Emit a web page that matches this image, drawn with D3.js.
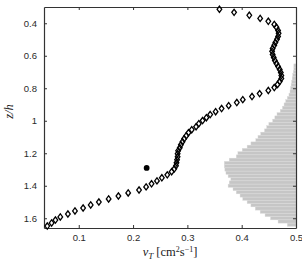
<!DOCTYPE html>
<html lang="en">
<head>
    <meta charset="UTF-8">
    <title>Eddy viscosity profile</title>
    <script src="https://d3js.org/d3.v7.min.js"></script>
    <style>
        body { margin: 0; background: #fff; }
        .tick text { font-family: "Liberation Sans", Arial, sans-serif; font-size: 9.5px; fill: #2a2a2a; }
    </style>
</head>
<body>
    <div id="chart"></div>

    <script>
        // profile: z/h and nu_T
        const profileZ = [0.314, 0.333, 0.351, 0.370, 0.388, 0.407, 0.425, 0.444, 0.462, 0.481,
            0.499, 0.518, 0.536, 0.555, 0.573, 0.592, 0.610, 0.629, 0.648, 0.666,
            0.685, 0.703, 0.722, 0.740, 0.759, 0.777, 0.796, 0.814, 0.833, 0.851,
            0.870, 0.888, 0.907, 0.925, 0.944, 0.962, 0.981, 0.999, 1.018, 1.037,
            1.055, 1.074, 1.092, 1.111, 1.129, 1.148, 1.166, 1.185, 1.203, 1.222,
            1.240, 1.259, 1.277, 1.296, 1.314, 1.333, 1.351, 1.370, 1.388, 1.407,
            1.426, 1.444, 1.463, 1.481, 1.500, 1.518, 1.537, 1.555, 1.574, 1.592,
            1.611, 1.629, 1.648];
        const profileNu = [0.359, 0.386, 0.414, 0.434, 0.449, 0.460, 0.464, 0.467, 0.468, 0.467,
            0.465, 0.462, 0.460, 0.457, 0.456, 0.457, 0.459, 0.461, 0.464, 0.467,
            0.470, 0.472, 0.473, 0.473, 0.470, 0.466, 0.460, 0.449, 0.433, 0.419,
            0.402, 0.391, 0.376, 0.363, 0.352, 0.342, 0.335, 0.328, 0.321, 0.316,
            0.308, 0.302, 0.298, 0.294, 0.291, 0.288, 0.286, 0.283, 0.282, 0.282,
            0.281, 0.280, 0.279, 0.276, 0.271, 0.263, 0.253, 0.244, 0.234, 0.224,
            0.211, 0.191, 0.173, 0.155, 0.137, 0.122, 0.108, 0.093, 0.080, 0.066,
            0.057, 0.050, 0.042];

        // single filled point
        const pointZ = 1.29;
        const pointNu = 0.225;

        // histogram bins (bottom edge of each 0.02 bin) and left end of each bar
        const histZ = d3.range(51).map(i => +(0.65 + i * 0.02).toFixed(2));
        const histLeft = [0.496, 0.496, 0.495, 0.494, 0.493, 0.492, 0.491, 0.490, 0.489, 0.487,
            0.484, 0.481, 0.478, 0.475, 0.471, 0.465, 0.461, 0.457, 0.450, 0.446,
            0.442, 0.435, 0.430, 0.426, 0.417, 0.410, 0.401, 0.393, 0.390, 0.377,
            0.368, 0.368, 0.369, 0.371, 0.375, 0.380, 0.377, 0.375, 0.384, 0.390,
            0.397, 0.402, 0.410, 0.417, 0.425, 0.434, 0.443, 0.453, 0.467, 0.484, 0.5];

        const xTicks = [0.1, 0.2, 0.3, 0.4, 0.5];
        const yTicks = [0.4, 0.6, 0.8, 1, 1.2, 1.4, 1.6];

        const W = 302, H = 261;
        const m = { left: 44, right: 296, top: 7, bottom: 228 };

        const svg = d3.select("#chart").append("svg")
            .attr("width", W)
            .attr("height", H);

        const x = d3.scaleLinear().domain([0.036, 0.5]).range([m.left, m.right]);
        const y = d3.scaleLinear().domain([0.3, 1.66]).range([m.top, m.bottom]);

        svg.append("clipPath").attr("id", "plot-clip")
            .append("rect")
            .attr("x", m.left).attr("y", m.top)
            .attr("width", m.right - m.left).attr("height", m.bottom - m.top);

        // histogram, growing from the right edge
        svg.append("g")
            .attr("clip-path", "url(#plot-clip)")
            .selectAll("rect")
            .data(histZ.map((z, i) => ({ z: z, l: histLeft[i] })))
            .join("rect")
            .attr("x", d => x(d.l))
            .attr("y", d => y(d.z))
            .attr("width", d => x(0.5) - x(d.l))
            .attr("height", d => y(d.z + 0.02) - y(d.z))
            .attr("fill", "#c6c6c6")
            .attr("stroke", "#dcdcdc")
            .attr("stroke-width", 0.4);

        // axes with inward ticks on all four sides
        const fmt = d => String(d);
        const axisColor = "#333";
        svg.append("g")
            .attr("transform", `translate(0,${m.bottom})`)
            .call(d3.axisBottom(x).tickValues(xTicks).tickFormat(fmt).tickSizeInner(-3).tickSizeOuter(0).tickPadding(6));
        svg.append("g")
            .attr("transform", `translate(0,${m.top})`)
            .call(d3.axisTop(x).tickValues(xTicks).tickFormat("").tickSizeInner(-3).tickSizeOuter(0));
        svg.append("g")
            .attr("transform", `translate(${m.left},0)`)
            .call(d3.axisLeft(y).tickValues(yTicks).tickFormat(fmt).tickSizeInner(-3).tickSizeOuter(0).tickPadding(7));
        svg.append("g")
            .attr("transform", `translate(${m.right},0)`)
            .call(d3.axisRight(y).tickValues(yTicks).tickFormat("").tickSizeInner(-3).tickSizeOuter(0));

        svg.selectAll(".domain").attr("stroke", axisColor).attr("stroke-width", 1.2);
        svg.selectAll(".tick line").attr("stroke", axisColor);

        // diamonds
        const diamond = d3.symbol().type(d3.symbolDiamond2).size(19);
        svg.append("g")
            .selectAll("path")
            .data(profileZ.map((z, i) => ({ z: z, nu: profileNu[i] })))
            .join("path")
            .attr("transform", d => `translate(${x(d.nu)},${y(d.z)}) scale(0.85,1.15)`)
            .attr("d", diamond)
            .attr("fill", "none")
            .attr("stroke", "#000")
            .attr("stroke-width", 1.35);

        svg.append("circle")
            .attr("cx", x(pointNu))
            .attr("cy", y(pointZ))
            .attr("r", 2.9)
            .attr("fill", "#000");

        // axis labels
        svg.append("text")
            .attr("transform", `translate(13,${(m.top + m.bottom) / 2 - 6}) rotate(-90)`)
            .attr("text-anchor", "middle")
            .attr("font-family", "Liberation Serif, serif")
            .attr("font-style", "italic")
            .attr("font-size", 12.5)
            .attr("fill", "#222")
            .text("z/h");

        const xl = svg.append("text")
            .attr("x", (m.left + m.right) / 2)
            .attr("y", 256)
            .attr("text-anchor", "middle")
            .attr("font-family", "Liberation Serif, serif")
            .attr("font-size", 12.5)
            .attr("fill", "#222");
        xl.append("tspan").attr("font-style", "italic").text("ν");
        xl.append("tspan").attr("font-style", "italic").attr("font-size", 9).attr("dy", 2.5).text("T");
        xl.append("tspan").attr("dy", -2.5).text(" [cm");
        xl.append("tspan").attr("font-size", 8).attr("dy", -4.5).text("2");
        xl.append("tspan").attr("dy", 4.5).text("s");
        xl.append("tspan").attr("font-size", 8).attr("dy", -4.5).text("−1");
        xl.append("tspan").attr("dy", 4.5).text("]");
    </script>
</body>
</html>
